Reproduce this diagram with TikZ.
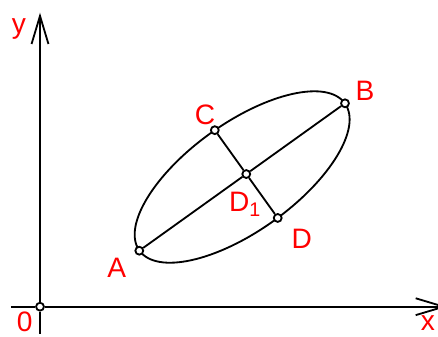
\documentclass[tikz,border=0pt]{standalone}
\usepackage{fontspec}
\setmainfont{Liberation Sans}
\usetikzlibrary{arrows.meta,calc,positioning}

\begin{document}
\begin{tikzpicture}[x=0.25mm, y=0.25mm,
  pnt/.style={circle,draw,fill=white,line width=1.3pt,inner sep=0pt,minimum size=5.6pt},
  lbl/.style={text=red,anchor=base,inner sep=0pt,font=\fontsize{20}{24}\selectfont},
  axis/.style={line width=1.3pt},
  axarr/.style={line width=1.3pt,-{Straight Barb[length=20pt,width=12pt]}}]
  \useasboundingbox (-40,-29.3) rectangle (398,306.7);
  % axes
  \coordinate (xl) at (-29,0);
  \coordinate (xr) at (407,0);
  \coordinate (yb) at (0,-27);
  \coordinate (yt) at (0,294);
  \node[pnt] (O) at (0,0) {};
  \draw[axis] (xl) -- (O);
  \draw[axarr] (O) -- (xr);
  \draw[axis] (yb) -- (O);
  \draw[axarr] (O) -- (yt);
  % ellipse through A and B
  \coordinate (a) at (99.3,56);
  \coordinate (b) at (305,203.4);
  \coordinate (m) at ($(a)!0.5!(b)$);
  \draw[axis, rotate around={35.62:(m)}] (m) ellipse [x radius=31.6mm, y radius=13.5mm];
  % points
  \node[pnt] (A) at (a) {};
  \node[pnt] (B) at (b) {};
  \node[pnt] (D1) at ($(a)!0.52!(b)$) {};
  \node[pnt] (C) at ($(D1)!13.5mm!90:(B)$) {};
  \node[pnt] (D) at ($(D1)!13.5mm!-90:(B)$) {};
  \draw[axis] (A) -- (D1);
  \draw[axis] (D1) -- (B);
  \draw[axis] (C) -- (D1);
  \draw[axis] (D1) -- (D);
  % labels
  \node[lbl] (lA) at (76.7,29.4) {A};
  \node[lbl] (lB) at (325,206.7) {B};
  \node[lbl] (lC) at (165,182.7) {C};
  \node[lbl] (lD) at (261.7,58.4) {D};
  \node[lbl] (lD1) at (205,95) {D\textsubscript{1}};
  \node[lbl] (lO) at (-15.3,-24.5) {0};
  \node[lbl] (lx) at (388,-23.5) {x};
  \node[lbl] (ly) at (-21.2,273.4) {y};
\end{tikzpicture}
\end{document}
